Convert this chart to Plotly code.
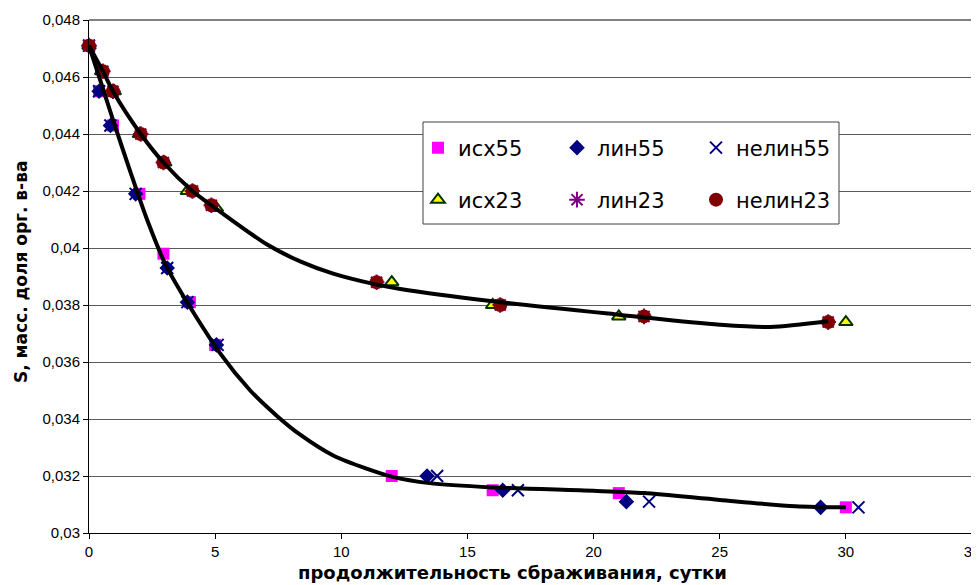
import plotly.graph_objects as go

# ---- data ----
t_isx55 = [0, 0.4, 0.95, 2, 2.95, 4, 5, 12, 16, 21, 30]
s_isx55 = [0.0471, 0.0455, 0.0443, 0.0419, 0.0398, 0.0381, 0.0366, 0.0320, 0.0315, 0.0314, 0.0309]

t_lin55 = [0, 0.4, 0.85, 1.85, 3.1, 3.9, 5.05, 13.4, 16.4, 21.3, 29.0]
s_lin55 = [0.0471, 0.0455, 0.0443, 0.0419, 0.0393, 0.0381, 0.0366, 0.0320, 0.0315, 0.0311, 0.0309]

t_nelin55 = [0, 0.4, 0.85, 1.85, 3.1, 3.9, 5.1, 13.8, 17.0, 22.2, 30.5]
s_nelin55 = [0.0471, 0.0455, 0.0443, 0.0419, 0.0393, 0.0381, 0.0366, 0.0320, 0.0315, 0.0311, 0.0309]

t_isx23 = [0, 0.5, 1, 2, 3, 3.9, 5.05, 12, 16, 21, 30]
s_isx23 = [0.0471, 0.0462, 0.0455, 0.0440, 0.0430, 0.0420, 0.0414, 0.0388, 0.0380, 0.0376, 0.0374]

t_lin23 = [0, 0.55, 0.95, 2.05, 2.95, 4.1, 4.85, 11.4, 16.3, 22.0, 29.3]
s_lin23 = [0.0471, 0.0462, 0.0455, 0.0440, 0.0430, 0.0420, 0.0415, 0.0388, 0.0380, 0.0376, 0.0374]

t_nelin23 = [0, 0.55, 0.95, 2.05, 2.95, 4.1, 4.85, 11.4, 16.3, 22.0, 29.3]
s_nelin23 = [0.0471, 0.0462, 0.0455, 0.0440, 0.0430, 0.0420, 0.0415, 0.0388, 0.0380, 0.0376, 0.0374]

# smoothed trend curves
t_fit55 = [0, 0.44, 0.95, 1.63, 2.3, 3.1, 5.2, 6.39, 7.46, 8.37, 9.68, 11.03, 12, 13.5, 16, 20, 22, 25, 28, 30]
s_fit55 = [0.0471, 0.0459, 0.0445, 0.0427, 0.0410, 0.0393, 0.0363, 0.0350, 0.0341, 0.03345, 0.03272, 0.03225, 0.03198, 0.03175, 0.0316, 0.03148, 0.0314, 0.03116, 0.03094, 0.0309]

t_fit23 = [0, 0.55, 0.95, 2.05, 2.95, 4.1, 4.85, 7.06, 8.37, 9.68, 11.27, 12.34, 16, 21, 25, 27, 29.3]
s_fit23 = [0.0471, 0.0462, 0.0455, 0.0440, 0.0430, 0.0420, 0.0415, 0.04012, 0.03953, 0.03910, 0.03874, 0.03856, 0.03813, 0.03766, 0.03731, 0.03723, 0.03743]

y_tickvals = [0.030, 0.032, 0.034, 0.036, 0.038, 0.040, 0.042, 0.044, 0.046, 0.048]
y_ticktext = ["0,03", "0,032", "0,034", "0,036", "0,038", "0,04", "0,042", "0,044", "0,046", "0,048"]
x_tickvals = [0, 5, 10, 15, 20, 25, 30, 35]

FONT = "Liberation Sans, Arial, sans-serif"
WFONT = "DejaVu Sans, Verdana, sans-serif"

fig = go.Figure()

def add_pts(x, y, name, legend, **marker):
    fig.add_trace(go.Scatter(x=x, y=y, mode="markers", name=name, legend=legend,
                             marker=marker, cliponaxis=False))

add_pts(t_isx55, s_isx55, "исх55", "legend", symbol="square", size=12, color="#FF00FF")
add_pts(t_lin55, s_lin55, "лин55", "legend", symbol="diamond", size=12, color="#000080")
add_pts(t_nelin55, s_nelin55, "нелин55", "legend", symbol="x-thin-open", size=12,
        color="#000080", line=dict(color="#000080", width=2))
add_pts(t_isx23, s_isx23, "исх23", "legend2", symbol="triangle-up", size=12,
        color="#FFFF00", line=dict(color="#003300", width=2))
add_pts(t_lin23, s_lin23, "лин23", "legend2", symbol="asterisk-open", size=13,
        color="#800080", line=dict(color="#800080", width=2))
add_pts(t_nelin23, s_nelin23, "нелин23", "legend2", symbol="circle", size=14, color="#800000")

for tx, sy in ((t_fit55, s_fit55), (t_fit23, s_fit23)):
    fig.add_trace(go.Scatter(x=tx, y=sy, mode="lines", showlegend=False,
                             line=dict(color="black", width=4, shape="spline", smoothing=0.8),
                             hoverinfo="skip"))

# page geometry (px); the page body has an 8px margin
OFF = 8
L, R, T, B = 89, 972, 20, 533
W, H = R - L, B - T
px = lambda x: (x - L) / W
py = lambda y: (B - y) / H

leg_common = dict(orientation="h", xanchor="left", yanchor="middle",
                  font=dict(family=WFONT, size=21, color="black"),
                  bgcolor="rgba(0,0,0,0)", borderwidth=0, entrywidth=94,
                  itemsizing="trace")

fig.update_layout(
    width=979 - OFF, height=585 - OFF,
    margin=dict(l=L - OFF, r=979 - R, t=T - OFF, b=585 - B, autoexpand=False),
    paper_bgcolor="white", plot_bgcolor="white",
    font=dict(family=FONT, size=15, color="black"),
    separators=", ",
    showlegend=True,
    legend=dict(x=px(418), y=py(148), **leg_common),
    legend2=dict(x=px(418), y=py(200), **leg_common),
    xaxis=dict(range=[0, 35], tickvals=x_tickvals, showgrid=False, zeroline=False,
               showline=True, linecolor="black", linewidth=1,
               ticks="outside", ticklen=5, tickcolor="black",
               ticklabeloverflow="allow", automargin=False,
               tickfont=dict(family=FONT, size=15)),
    yaxis=dict(range=[0.03, 0.048], tickvals=y_tickvals, ticktext=y_ticktext,
               showgrid=True, gridcolor="#5a5a5a", gridwidth=1, zeroline=False,
               showline=True, linecolor="black", linewidth=1,
               ticks="outside", ticklen=5, tickcolor="black", automargin=False,
               tickfont=dict(family=FONT, size=15)),
    shapes=[
        dict(type="line", xref="paper", yref="paper", x0=0, x1=1, y0=1, y1=1,
             line=dict(color="#808080", width=2)),
        dict(type="line", xref="paper", yref="paper", x0=1, x1=1, y0=0, y1=1,
             line=dict(color="#808080", width=2)),
        dict(type="rect", xref="paper", yref="paper", layer="above",
             x0=px(423), x1=px(839), y0=py(224), y1=py(122),
             fillcolor="white", line=dict(color="#404040", width=1)),
    ],
    annotations=[
        dict(text="<b>продолжительность сбраживания, сутки</b>", xref="paper", yref="paper",
             x=px(512), y=py(572), xanchor="center", yanchor="middle", showarrow=False,
             font=dict(family=WFONT, size=18, color="black")),
        dict(text="<b>S, масс. доля орг. в-ва</b>", xref="paper", yref="paper",
             x=px(21), y=py(272), xanchor="center", yanchor="middle", showarrow=False,
             textangle=-90, font=dict(family=WFONT, size=17, color="black")),
    ],
)

fig.write_html("out.html")
